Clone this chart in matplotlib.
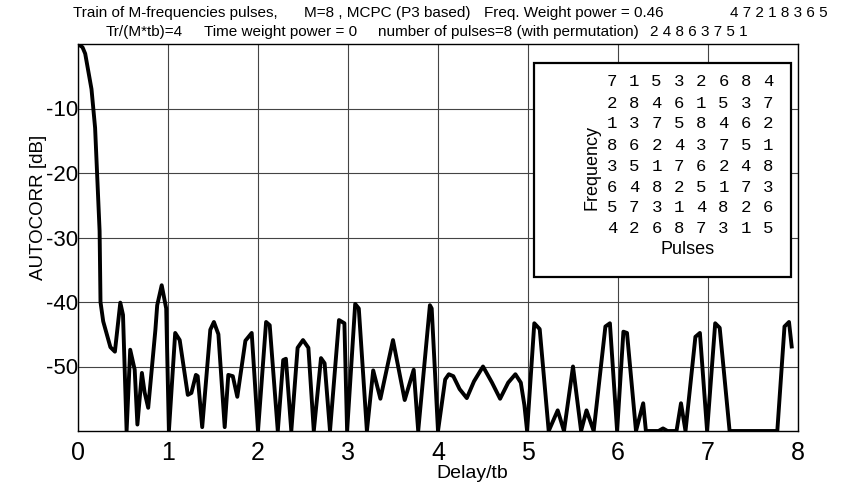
import matplotlib
matplotlib.use("Agg")
import matplotlib.pyplot as plt
from matplotlib.patches import Rectangle

# autocorrelation trace (delay in tb, level in dB)
delay = [0.00, 0.05, 0.08, 0.15, 0.19, 0.24, 0.25, 0.28, 0.36, 0.41,
         0.47, 0.50, 0.54, 0.58, 0.63, 0.66, 0.71, 0.74, 0.78, 0.86,
         0.88, 0.93, 0.98, 1.01, 1.08, 1.13, 1.22, 1.26, 1.31, 1.33,
         1.38, 1.47, 1.51, 1.56, 1.63, 1.67, 1.72, 1.77, 1.86, 1.93,
         2.00, 2.09, 2.13, 2.22, 2.28, 2.31, 2.37, 2.44, 2.50, 2.56,
         2.62, 2.70, 2.74, 2.80, 2.90, 2.96, 2.99, 3.08, 3.12, 3.21,
         3.28, 3.36, 3.50, 3.63, 3.73, 3.78, 3.91, 3.93, 4.00, 4.04,
         4.08, 4.12, 4.17, 4.24, 4.32, 4.40, 4.50, 4.60, 4.69, 4.78,
         4.86, 4.92, 4.96, 4.99, 5.07, 5.13, 5.23, 5.33, 5.40, 5.50,
         5.59, 5.65, 5.73, 5.86, 5.91, 5.99, 6.06, 6.10, 6.20, 6.28,
         6.31, 6.45, 6.50, 6.55, 6.65, 6.70, 6.75, 6.86, 6.91, 6.99,
         7.08, 7.13, 7.24, 7.77, 7.85, 7.90, 7.93]
autocorr_db = [0.0, -0.5, -1.5, -7.0, -13.0, -29.0, -40.0, -43.0, -47.0, -47.7,
               -40.1, -42.0, -60.0, -47.4, -50.5, -59.0, -51.0, -54.0, -56.4, -44.3,
               -40.5, -37.4, -41.0, -60.0, -44.8, -45.9, -54.4, -54.1, -51.3, -51.5,
               -59.4, -44.3, -43.1, -45.0, -59.4, -51.3, -51.5, -54.7, -46.0, -44.8,
               -60.0, -43.1, -43.6, -60.0, -49.0, -48.8, -60.0, -47.1, -45.9, -47.1,
               -60.0, -48.7, -49.5, -60.0, -42.8, -43.3, -60.0, -40.3, -41.0, -60.0,
               -50.6, -55.0, -45.9, -55.2, -50.5, -60.0, -40.5, -41.0, -60.0, -56.0,
               -52.0, -51.2, -51.5, -53.5, -54.9, -52.3, -50.0, -52.5, -55.0, -52.5,
               -51.2, -52.5, -56.0, -60.0, -43.3, -44.2, -60.0, -56.8, -60.0, -50.0,
               -60.0, -56.8, -60.0, -43.8, -43.3, -60.0, -44.6, -44.8, -60.0, -55.7,
               -60.0, -60.0, -59.6, -60.0, -60.0, -55.7, -60.0, -45.4, -44.8, -60.0,
               -43.3, -44.0, -60.0, -60.0, -43.8, -43.1, -46.9]

x_ticks = [0, 1, 2, 3, 4, 5, 6, 7, 8]
y_ticks = [-10, -20, -30, -40, -50]

# frequency/pulse permutation matrix shown in the inset
freq_matrix = [
    [7, 1, 5, 3, 2, 6, 8, 4],
    [2, 8, 4, 6, 1, 5, 3, 7],
    [1, 3, 7, 5, 8, 4, 6, 2],
    [8, 6, 2, 4, 3, 7, 5, 1],
    [3, 5, 1, 7, 6, 2, 4, 8],
    [6, 4, 8, 2, 5, 1, 7, 3],
    [5, 7, 3, 1, 4, 8, 2, 6],
    [4, 2, 6, 8, 7, 3, 1, 5],
]

# title pieces: (text, left pixel)
title1_parts = [("Train of M-frequencies pulses,", 73),
                ("M=8 , MCPC (P3 based)", 304),
                ("Freq. Weight power = 0.46", 484),
                ("4 7 2 1 8 3 6 5", 730)]
title2_parts = [("Tr/(M*tb)=4", 106),
                ("Time weight power = 0", 204),
                ("number of pulses=8 (with permutation)", 378),
                ("2 4 8 6 3 7 5 1", 650)]

sans = ["Liberation Sans", "DejaVu Sans"]
mono = ["Liberation Mono", "DejaVu Sans Mono"]
W, H = 850, 484

fig = plt.figure(figsize=(8.5, 4.84), dpi=100)
ax = fig.add_axes([78 / W, 1 - 431 / H, 720 / W, 387 / H])

ax.plot(delay, autocorr_db, color="black", linewidth=2.8, solid_joinstyle="round")
ax.set_xlim(0, 8)
ax.set_ylim(-60, 0)
ax.set_xticks(x_ticks)
ax.set_yticks(y_ticks)
ax.set_xticklabels([str(v) for v in x_ticks], family=sans, fontsize=18)
ax.set_yticklabels([str(v) for v in y_ticks], family=sans, fontsize=16)
ax.tick_params(axis="x", length=0, pad=7)
ax.tick_params(axis="y", length=0, pad=0)
ax.grid(True, color="#444444", linewidth=0.8)
ax.set_axisbelow(True)
for sp in ax.spines.values():
    sp.set_linewidth(1.0)

fig.text(39 / W, 1 - 207 / H, "AUTOCORR [dB]", rotation=90, va="center", ha="center",
         family=sans, fontsize=13.5)
fig.text(472 / W, 1 - 473 / H, "Delay/tb", ha="center", va="center",
         family=sans, fontsize=14)

for txt, left in title1_parts:
    fig.text(left / W, 1 - 13 / H, txt, ha="left", va="center", family=sans, fontsize=11)
for txt, left in title2_parts:
    fig.text(left / W, 1 - 32 / H, txt, ha="left", va="center", family=sans, fontsize=11)

# inset box with the permutation matrix
ix0, ix1 = 534 / W, 791 / W
iy0, iy1 = 1 - 277 / H, 1 - 63 / H
fig.patches.append(Rectangle((ix0, iy0), ix1 - ix0, iy1 - iy0, transform=fig.transFigure,
                             facecolor="white", edgecolor="black", linewidth=1.6, zorder=5))
for r, row in enumerate(freq_matrix):
    for c, val in enumerate(row):
        fig.text((612 + 22.3 * c) / W, 1 - (82 + 21 * r) / H, str(val),
                 ha="center", va="center", family=mono, fontsize=12.5, zorder=6)
fig.text(688 / W, 1 - 249 / H, "Pulses", ha="center", va="center",
         family=sans, fontsize=13, zorder=6)
fig.text(592 / W, 1 - 167 / H, "Frequency", rotation=90, ha="center", va="center",
         family=sans, fontsize=13, zorder=6)

fig.savefig("out.png", dpi=100)
